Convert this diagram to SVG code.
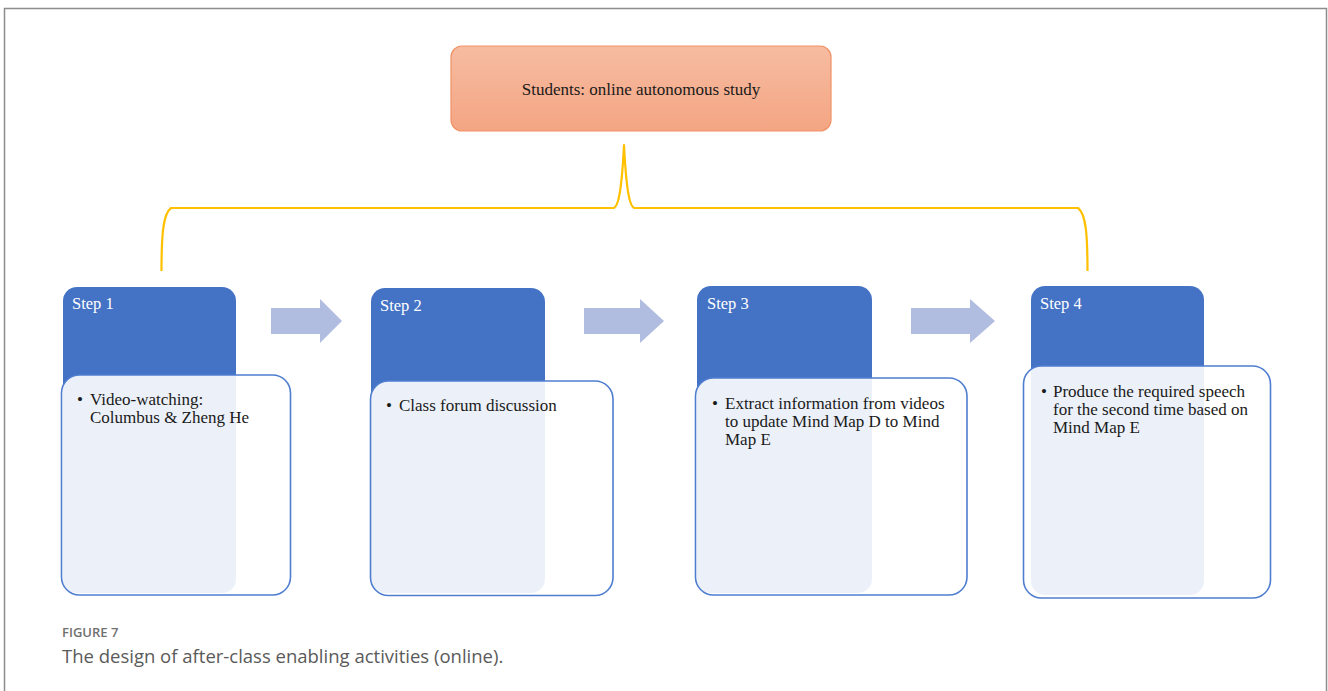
<svg xmlns="http://www.w3.org/2000/svg" width="1328" height="691" viewBox="0 0 1328 691">
  <defs>
    <linearGradient id="topFill" x1="0" y1="0" x2="0" y2="1">
      <stop offset="0" stop-color="#f6bca1"/>
      <stop offset="1" stop-color="#f4a583"/>
    </linearGradient>
    <style>
      .frame { fill: none; stroke: #8c8c8c; stroke-width: 1.5; }
      .top { fill: url(#topFill); stroke: #f19266; stroke-width: 1.2; }
      .tab { fill: #4472c4; }
      .card { fill: #ffffff; fill-opacity: 0.9; stroke: #4f7ed0; stroke-width: 1.6; }
      .brace { fill: none; stroke: #ffc000; stroke-width: 2.2; stroke-linejoin: round; }
      .flow { fill: #b0bde0; }
      .t { font-family: "Liberation Serif", "Times New Roman", serif; font-size: 17px; fill: #1a1a1a; }
      .step { font-family: "Liberation Serif", "Times New Roman", serif; font-size: 16.5px; fill: #ffffff; }
      .figno { font-family: "Open Sans", "Liberation Sans", sans-serif; font-size: 13px; font-weight: 600; fill: #707070; }
      .cap { font-family: "Open Sans", "Liberation Sans", sans-serif; font-size: 18.5px; fill: #5a5a5a; }
    </style>
  </defs>

  <rect width="1328" height="691" fill="#ffffff"/>
  <!-- outer frame (open at the bottom) -->
  <path class="frame" d="M4.5 700 V8.5 H1326.5 V700"/>

  <!-- top node -->
  <g id="students">
    <rect class="top" x="451" y="46" width="380" height="85" rx="11"/>
    <text class="t" x="641" y="95" text-anchor="middle">Students: online autonomous study</text>
  </g>

  <!-- connectors: brace and flow arrows -->
  <g id="connectors">
    <path class="brace" d="M161.5 271 C161.5 235 163 214 171 208 H613 C619 208 622 185 624 145 C626 185 629 208 635 208 H1078 C1086 214 1087.5 235 1087.5 271"/>
    <path class="flow" d="M271 308 H320 V299 L342 321 L320 343 V334 H271 Z"/>
    <path class="flow" d="M584 308 H640 V299 L664 321 L640 343 V334 H584 Z"/>
    <path class="flow" d="M911 308 H970 V299 L995 321 L970 343 V334 H911 Z"/>
  </g>

  <g id="step1">
    <rect class="tab" x="63" y="287" width="173" height="306" rx="14"/>
    <rect class="card" x="61.5" y="375" width="229" height="220" rx="18"/>
    <text class="step" x="72" y="309">Step 1</text>
    <text class="t" x="77" y="405">•</text>
    <text class="t" x="90" y="405">Video-watching:</text>
    <text class="t" x="90" y="423">Columbus &amp; Zheng He</text>
  </g>

  <g id="step2">
    <rect class="tab" x="371" y="288" width="174" height="305" rx="14"/>
    <rect class="card" x="370.5" y="381" width="242.5" height="214.5" rx="18"/>
    <text class="step" x="380" y="311">Step 2</text>
    <text class="t" x="386" y="411">•</text>
    <text class="t" x="399" y="411">Class forum discussion</text>
  </g>

  <g id="step3">
    <rect class="tab" x="697" y="286" width="175" height="307" rx="14"/>
    <rect class="card" x="695.5" y="378" width="271.5" height="217" rx="18"/>
    <text class="step" x="707" y="309">Step 3</text>
    <text class="t" x="712" y="409">•</text>
    <text class="t" x="725" y="409">Extract information from videos</text>
    <text class="t" x="725" y="427">to update Mind Map D to Mind</text>
    <text class="t" x="725" y="445">Map E</text>
  </g>

  <g id="step4">
    <rect class="tab" x="1031" y="286" width="173" height="309" rx="14"/>
    <rect class="card" x="1023.5" y="366" width="247" height="232" rx="18"/>
    <text class="step" x="1040" y="309">Step 4</text>
    <text class="t" x="1041" y="397">•</text>
    <text class="t" x="1053" y="397">Produce the required speech</text>
    <text class="t" x="1053" y="415">for the second time based on</text>
    <text class="t" x="1053" y="433">Mind Map E</text>
  </g>

  <!-- caption -->
  <text class="figno" x="62" y="637">FIGURE 7</text>
  <text class="cap" x="62" y="663">The design of after-class enabling activities (online).</text>
</svg>
